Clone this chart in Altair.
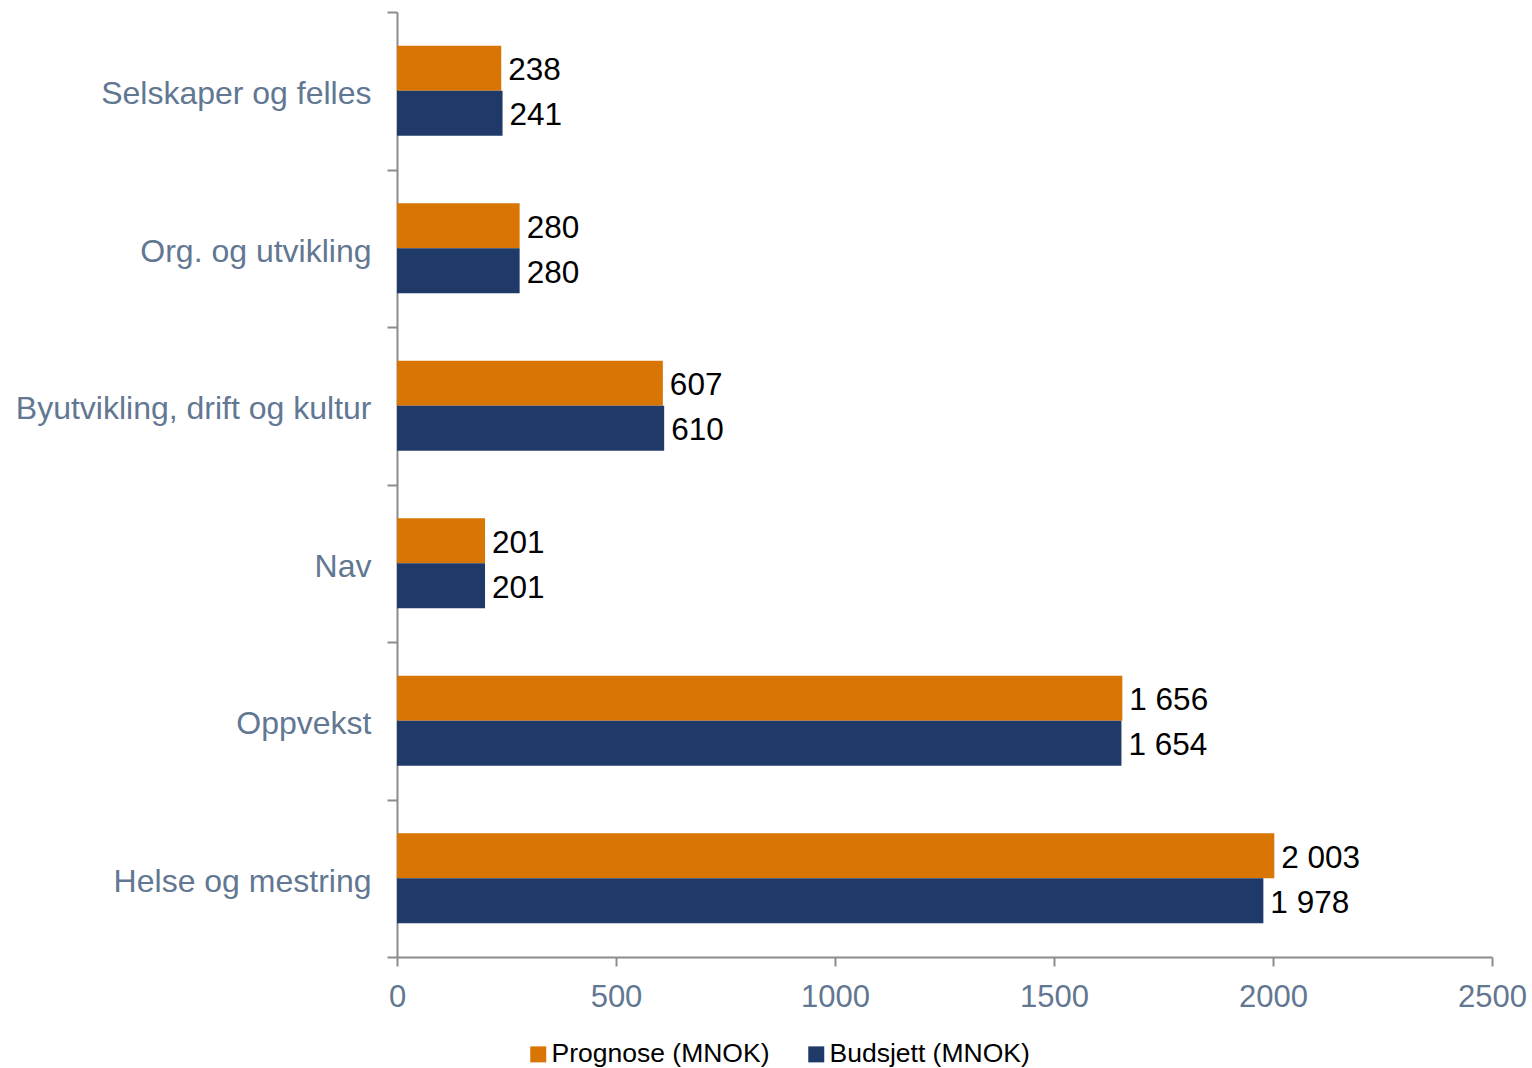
import altair as alt
import pandas as pd

categories = ["Selskaper og felles", "Org. og utvikling", "Byutvikling, drift og kultur",
              "Nav", "Oppvekst", "Helse og mestring"]
prognose = [238, 280, 607, 201, 1656, 2003]
budsjett = [241, 280, 610, 201, 1654, 1978]
series_names = ["Prognose (MNOK)", "Budsjett (MNOK)"]
series_colors = ["#D97504", "#1F3A69"]
x_ticks = [0, 500, 1000, 1500, 2000, 2500]

rows = []
for c, p, b in zip(categories, prognose, budsjett):
    rows.append({"category": c, "series": series_names[0], "value": p})
    rows.append({"category": c, "series": series_names[1], "value": b})
df = pd.DataFrame(rows)

FONT = "Liberation Sans, Arial, sans-serif"
LABEL_COLOR = "#627792"
AXIS_COLOR = "#8C8C8C"

y_enc = alt.Y("category:N", sort=categories,
              scale=alt.Scale(paddingInner=0, paddingOuter=0),
              axis=alt.Axis(title=None, tickBand="extent", labelFontSize=32,
                            labelColor=LABEL_COLOR, labelFont=FONT, labelPadding=16,
                            labelOffset=3,
                            labelLimit=600, tickSize=10, tickWidth=2, tickColor=AXIS_COLOR,
                            domainColor=AXIS_COLOR, domainWidth=2, grid=False))
yoff_enc = alt.YOffset("series:N", sort=series_names,
                       scale=alt.Scale(paddingInner=0, paddingOuter=0.75))
x_enc = alt.X("value:Q", scale=alt.Scale(domain=[0, 2500], nice=False),
              axis=alt.Axis(title=None, values=x_ticks, labelFontSize=31,
                            labelColor=LABEL_COLOR, labelFont=FONT, labelPadding=16,
                            labelFlush=False, tickSize=9, tickWidth=2, tickColor=AXIS_COLOR,
                            domainColor=AXIS_COLOR, domainWidth=2, grid=False, format="d"))

base = alt.Chart(df).encode(y=y_enc, yOffset=yoff_enc, x=x_enc)

bars = base.mark_bar(size=45).encode(
    color=alt.Color("series:N", sort=series_names,
                    scale=alt.Scale(domain=series_names, range=series_colors),
                    legend=alt.Legend(title=None, orient="none", direction="horizontal",
                                      legendX=128, legendY=1029, symbolType="square",
                                      symbolSize=256, symbolStrokeWidth=0,
                                      labelFontSize=26.5, labelFont=FONT, labelColor="#000000",
                                      labelLimit=1000,
                                      labelOffset=0, columnPadding=33, padding=0))
)

texts = base.transform_calculate(
    label="replace(format(datum.value, ','), ',', ' ')"
).mark_text(align="left", baseline="middle", dx=7, dy=3, fontSize=31.5, font=FONT,
            color="#000000").encode(text="label:N")

chart = alt.layer(bars, texts).properties(
    width=1095, height=945,
    background="white",
    autosize=alt.AutoSizeParams(type="none"),
    padding={"left": 397, "top": 12, "right": 40, "bottom": 111},
).configure_view(stroke=None)

chart.save("out.html", embed_options={"renderer": "svg", "actions": False})
